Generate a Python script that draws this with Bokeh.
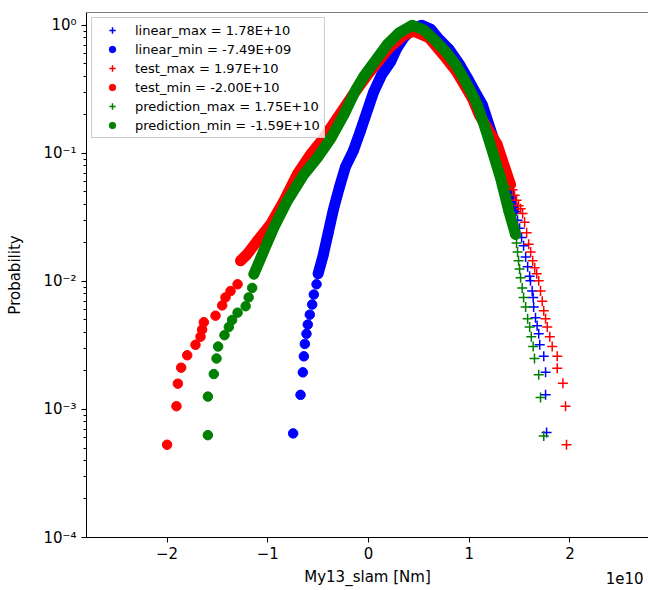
from bokeh.plotting import figure
from bokeh.models import Range1d, FixedTicker, Legend, LegendItem, Label, Span
from bokeh.embed import file_html
from bokeh.resources import INLINE

# ---------------- data (x in units of 1e10 Nm, y = probability) ----------------
x_ticks = [-2, -1, 0, 1, 2]
x_tick_labels = ["\u22122", "\u22121", "0", "1", "2"]
y_ticks = [1e-4, 1e-3, 1e-2, 1e-1, 1.0]
y_tick_labels = ["10\u207b\u2074", "10\u207b\u00b3", "10\u207b\u00b2", "10\u207b\u00b9", "10\u2070"]
legend_labels = [
    "linear_max = 1.78E+10",
    "linear_min = -7.49E+09",
    "test_max = 1.97E+10",
    "test_min = -2.00E+10",
    "prediction_max = 1.75E+10",
    "prediction_min = -1.59E+10",
]

# linear (blue)
linear_max_x = [1.40, 1.42, 1.44, 1.46, 1.48, 1.50, 1.52, 1.54, 1.56, 1.58, 1.60, 1.608, 1.625,
                1.635, 1.64, 1.658, 1.674, 1.69, 1.70, 1.74, 1.758, 1.758, 1.768]
linear_max_y = [0.050, 0.045, 0.040, 0.035, 0.030, 0.026, 0.022, 0.019, 0.0155, 0.013, 0.011,
                0.0101, 0.0084, 0.0075, 0.0063, 0.0052, 0.0045, 0.0039, 0.0032, 0.0026, 0.00195,
                0.0013, 0.00066]
linear_min_tail_x = [-0.748, -0.675, -0.652, -0.642, -0.632, -0.616, -0.603, -0.583, -0.559,
                     -0.543, -0.516]
linear_min_tail_y = [0.00065, 0.0013, 0.00195, 0.0026, 0.00325, 0.0039, 0.0046, 0.0055, 0.0066,
                     0.0079, 0.0095]
linear_min_body_x = [-0.50, -0.45, -0.40, -0.35, -0.29, -0.23, -0.15, -0.08, 0.05, 0.13, 0.22,
                     0.28, 0.35, 0.44, 0.53, 0.62, 0.70, 0.80, 0.90, 0.98, 1.07, 1.13, 1.26,
                     1.36, 1.44]
linear_min_body_y = [0.0115, 0.016, 0.024, 0.036, 0.054, 0.078, 0.105, 0.15, 0.30, 0.41, 0.52,
                     0.66, 0.80, 0.95, 1.0, 0.93, 0.78, 0.65, 0.50, 0.39, 0.29, 0.24, 0.117,
                     0.065, 0.036]

# test (red)
test_max_x = [1.41, 1.43, 1.45, 1.47, 1.49, 1.51, 1.53, 1.55, 1.57, 1.59, 1.61, 1.63, 1.65,
              1.67, 1.69, 1.708, 1.725, 1.74, 1.758, 1.775, 1.80, 1.824, 1.874, 1.874, 1.93,
              1.956, 1.966]
test_max_y = [0.057, 0.052, 0.047, 0.043, 0.039, 0.037, 0.034, 0.029, 0.024, 0.0195, 0.017,
              0.0145, 0.0128, 0.0115, 0.0101, 0.0084, 0.0070, 0.0059, 0.0051, 0.0044, 0.0037,
              0.0031, 0.0026, 0.0021, 0.0016, 0.00106, 0.00053]
test_min_tail_x = [-2.00, -1.907, -1.893, -1.86, -1.80, -1.718, -1.668, -1.652, -1.635, -1.519,
                   -1.453, -1.42, -1.37, -1.30]
test_min_tail_y = [0.00053, 0.00106, 0.00159, 0.00212, 0.00265, 0.0032, 0.0037, 0.0042, 0.0048,
                   0.0054, 0.0065, 0.0075, 0.0084, 0.0095]
test_min_body_x = [-1.27, -1.24, -1.205, -1.105, -0.973, -0.84, -0.708, -0.576, -0.444, -0.31,
                   -0.15, 0.0, 0.2, 0.35, 0.45, 0.6, 0.75, 0.87, 1.03, 1.10, 1.278, 1.41]
test_min_body_y = [0.0145, 0.0153, 0.0163, 0.0207, 0.0279, 0.0425, 0.0685, 0.098, 0.132, 0.189,
                   0.29, 0.42, 0.66, 0.84, 0.90, 0.80, 0.58, 0.44, 0.27, 0.20, 0.117, 0.057]

# prediction (green)
prediction_max_x = [1.36, 1.38, 1.40, 1.43, 1.45, 1.46, 1.47, 1.48, 1.49, 1.50, 1.51, 1.526,
                    1.54, 1.56, 1.58, 1.60, 1.616, 1.635, 1.648, 1.69, 1.708, 1.74]
prediction_max_y = [0.055, 0.047, 0.040, 0.033, 0.027, 0.023, 0.020, 0.017, 0.0145, 0.0125,
                    0.0107, 0.0089, 0.0075, 0.0063, 0.0051, 0.0044, 0.0037, 0.0031, 0.0025,
                    0.00187, 0.00124, 0.00062]
prediction_min_tail_x = [-1.595, -1.595, -1.536, -1.509, -1.493, -1.43, -1.387, -1.354, -1.30,
                         -1.22, -1.19, -1.155]
prediction_min_tail_y = [0.00063, 0.00126, 0.00189, 0.0025, 0.0031, 0.0038, 0.0044, 0.0050,
                         0.0057, 0.0064, 0.0075, 0.0089]
prediction_min_body_x = [-1.138, -1.04, -0.94, -0.807, -0.642, -0.51, -0.377, -0.245, -0.12,
                         -0.046, 0.186, 0.30, 0.434, 0.55, 0.67, 0.77, 0.866, 0.95, 1.03, 1.08,
                         1.147, 1.21, 1.31, 1.393, 1.46]
prediction_min_body_y = [0.0114, 0.0173, 0.0263, 0.0425, 0.0685, 0.092, 0.13, 0.20, 0.32, 0.40,
                         0.71, 0.87, 1.0, 0.92, 0.75, 0.62, 0.494, 0.38, 0.289, 0.24, 0.168,
                         0.117, 0.0646, 0.0355, 0.0233]

# ---------------- figure ----------------
FONT = "DejaVu Sans"
p = figure(width=648, height=590, y_axis_type="log",
           x_range=Range1d(-2.8, 2.78), y_range=Range1d(1e-4, 1.26),
           output_backend="svg", toolbar_location=None,
           min_border_left=86, min_border_right=0, min_border_top=11, min_border_bottom=53)
p.background_fill_color = "white"
p.border_fill_color = "white"
p.outline_line_color = None
p.xgrid.visible = False
p.ygrid.visible = False

series = [
    ("#0000ff", linear_max_x, linear_max_y, linear_min_tail_x, linear_min_tail_y,
     linear_min_body_x, linear_min_body_y),
    ("#ff0000", test_max_x, test_max_y, test_min_tail_x, test_min_tail_y,
     test_min_body_x, test_min_body_y),
    ("#008000", prediction_max_x, prediction_max_y, prediction_min_tail_x, prediction_min_tail_y,
     prediction_min_body_x, prediction_min_body_y),
]

items = []
for i, (col, mx, my, tx, ty, bx, by) in enumerate(series):
    r_max = p.scatter(mx, my, marker="cross", size=10, line_width=1.5, line_color=col)
    p.line(bx, by, line_width=11, line_color=col, line_cap="round", line_join="round")
    p.scatter(bx, by, marker="circle", size=9.5, fill_color=col, line_color=col)
    r_min = p.scatter(tx, ty, marker="circle", size=9.5, fill_color=col, line_color=col)
    items.append(LegendItem(label=legend_labels[2 * i], renderers=[r_max]))
    items.append(LegendItem(label=legend_labels[2 * i + 1], renderers=[r_min]))

# top spine
p.add_layout(Span(location=1.26, dimension="width", line_color="black", line_width=1))

# axes
for ax in (p.xaxis[0], p.yaxis[0]):
    ax.axis_line_color = "black"
    ax.major_tick_line_color = "black"
    ax.minor_tick_line_color = "black"
    ax.major_tick_out = 5
    ax.major_tick_in = 0
    ax.minor_tick_out = 3
    ax.minor_tick_in = 0
    ax.major_label_text_font = FONT
    ax.major_label_text_font_size = "15px"
    ax.major_label_text_color = "black"
    ax.axis_label_text_font = FONT
    ax.axis_label_text_font_size = "15px"
    ax.axis_label_text_font_style = "normal"
    ax.axis_label_text_color = "black"

p.xaxis.ticker = FixedTicker(ticks=x_ticks, minor_ticks=[])
p.xaxis.major_label_overrides = {t: s for t, s in zip(x_ticks, x_tick_labels)}
p.xaxis.axis_label = "My13_slam [Nm]"
p.xaxis.major_label_standoff = 4
p.xaxis.axis_label_standoff = 6

minor_y = [m * 10.0 ** e for e in range(-4, 0) for m in range(2, 10)]
p.yaxis.ticker = FixedTicker(ticks=y_ticks, minor_ticks=minor_y)
p.yaxis.major_label_overrides = {t: s for t, s in zip(y_ticks, y_tick_labels)}
p.yaxis.axis_label = "Probability"
p.yaxis.major_label_standoff = 5
p.yaxis.axis_label_standoff = 16

# offset text "1e10": anchored to the x-axis end, placed in a side panel so it is not clipped
p.add_layout(Label(x=2.78, y=1e-4, text="1e10", x_offset=-5, y_offset=-40,
                   text_align="right", text_baseline="middle", text_font=FONT,
                   text_font_size="15px", text_color="black"), "above")

legend = Legend(items=items, location="top_left", margin=5, padding=4, spacing=3,
                glyph_width=32, glyph_height=16, label_height=16, label_standoff=7,
                label_text_font=FONT, label_text_font_size="13px", label_text_color="black",
                border_line_color="#cccccc", border_line_alpha=1.0,
                background_fill_color="white", background_fill_alpha=0.8)
p.add_layout(legend)

open("out.html", "w").write(file_html(p, INLINE))
